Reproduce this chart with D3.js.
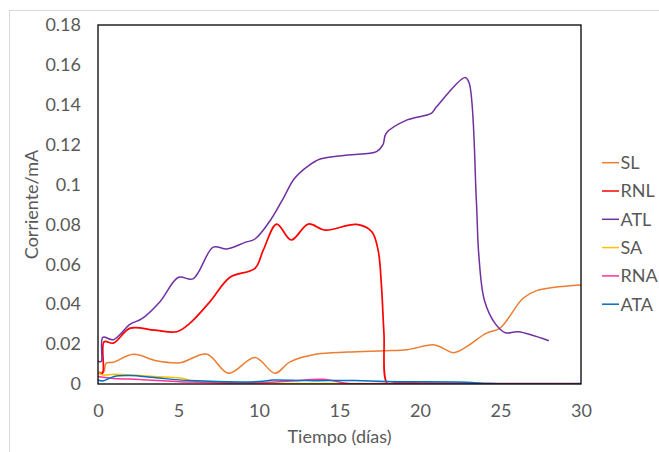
<!DOCTYPE html>
<html>
<head>
<meta charset="utf-8">
<script src="https://cdn.jsdelivr.net/npm/d3@7"></script>
<style>
  body { margin: 0; background: #fff; }
  svg text { font-family: Lato, "Liberation Sans", sans-serif; fill: #595959; }
</style>
</head>
<body>
<svg id="chart" width="659" height="452"></svg>
<script>
// values: [tiempo (días), corriente (mA)]
const seriesNames = ['SL', 'RNL', 'ATL', 'SA', 'RNA', 'ATA'];
const seriesColors = ['#ED7D31', '#FF0000', '#7030A0', '#FFC000', '#FF3399', '#0070C0'];

const SL = [[0,0.006],[0.35,0.006],[0.5,0.0104],[0.95,0.0109],[2.2,0.0149],[3.6,0.0117],[5.1,0.0107],
  [6.75,0.015],[8.1,0.0054],[9.75,0.0133],[11.0,0.0054],[11.9,0.011],[13.6,0.015],[15.5,0.016],
  [17.8,0.0167],[19.2,0.0172],[20.9,0.0196],[22.1,0.0157],[22.9,0.0187],[24.1,0.0254],[24.97,0.028],
  [26.4,0.043],[27.25,0.0468],[30,0.0496]];
const RNL = [[0,0.0055],[0.28,0.0055],[0.38,0.0212],[0.95,0.0205],[2,0.028],[3.5,0.027],[4.9,0.0262],
  [5.7,0.0304],[6.96,0.0413],[8.2,0.0535],[9.75,0.058],[10.27,0.0672],[11.1,0.0802],[12,0.0722],
  [13.06,0.0802],[14.1,0.0772],[16.07,0.080],[17.0,0.0764],[17.4,0.067],[17.6,0.050],[17.76,0.0255],
  [17.97,0.0003],[18.6,0.0008],[20,0.0004],[30,0.0002]];
const ATL = [[0,0.0115],[0.2,0.0113],[0.3,0.0234],[0.95,0.0222],[2,0.030],[2.7,0.0326],[3.85,0.0413],
  [5,0.0535],[5.9,0.0527],[7.16,0.0686],[8,0.0677],[9.13,0.071],[9.75,0.0727],[10.7,0.082],
  [11.5,0.093],[12.2,0.103],[13,0.109],[13.8,0.1128],[15.5,0.1148],[17.3,0.1165],[17.7,0.120],
  [17.9,0.1257],[19.2,0.1324],[20.7,0.1357],[21.0,0.1387],[22.8,0.1537],[23.05,0.151],[23.5,0.092],
  [23.65,0.065],[24,0.042],[24.66,0.0304],[25.3,0.0257],[26.1,0.0262],[28,0.0217]];
const SA = [[0,0.0058],[0.3,0.0045],[1,0.0049],[2.6,0.0042],[4.7,0.0032],[5.3,0.0028],[6,0.0012],
  [7.5,0.0005],[12,0.0003],[20,0.0002],[30,0.0001]];
const RNA = [[0,0.0038],[1,0.0028],[2.6,0.0023],[5.7,0.001],[10,0.0007],[12,0.0015],[14,0.0024],
  [15.5,0.0003],[18,0.0002],[30,0.0001]];
const ATA = [[0,0.002],[0.3,0.0015],[1,0.0038],[2,0.0042],[3.5,0.0032],[5.7,0.0017],[10,0.0012],
  [10.9,0.002],[13,0.0017],[16,0.0017],[17.9,0.0012],[22.9,0.0009],[24.3,0.0002],[30,0.0001]];

const seriesData = [SL, RNL, ATL, SA, RNA, ATA];
const xTicks = [0, 5, 10, 15, 20, 25, 30];
const yTicks = [0, 0.02, 0.04, 0.06, 0.08, 0.1, 0.12, 0.14, 0.16, 0.18];

const svg = d3.select('#chart');
const plotLeft = 98, plotRight = 581, plotTop = 25, plotBottom = 384;
const fontSize = '18px';

// chart area border
svg.append('rect')
  .attr('x', 9.5).attr('y', 10.5)
  .attr('width', 700).attr('height', 500)
  .attr('fill', '#fff')
  .attr('stroke', '#d9d9d9');

const x = d3.scaleLinear().domain([0, 30]).range([plotLeft, plotRight]);
const y = d3.scaleLinear().domain([0, 0.18]).range([plotBottom, plotTop]);

const line = d3.line()
  .x(d => x(d[0]))
  .y(d => y(d[1]))
  .curve(d3.curveCatmullRom.alpha(0.5));

svg.append('defs').append('clipPath').attr('id', 'plotclip')
  .append('rect')
  .attr('x', plotLeft).attr('y', plotTop - 2)
  .attr('width', plotRight - plotLeft).attr('height', plotBottom - plotTop + 2);

svg.append('g')
  .attr('clip-path', 'url(#plotclip)')
  .selectAll('path')
  .data(seriesData)
  .join('path')
    .attr('d', line)
    .attr('fill', 'none')
    .attr('stroke', (d, i) => seriesColors[i])
    .attr('stroke-width', (d, i) => i === 1 ? 1.7 : 1.5)
    .attr('stroke-linejoin', 'round');

// plot border
svg.append('rect')
  .attr('x', plotLeft).attr('y', plotTop)
  .attr('width', plotRight - plotLeft).attr('height', plotBottom - plotTop)
  .attr('fill', 'none')
  .attr('stroke', '#000')
  .attr('stroke-width', 1.3);

const xAxis = svg.append('g')
  .attr('transform', `translate(0,${plotBottom})`)
  .call(d3.axisBottom(x).tickValues(xTicks).tickSize(0).tickPadding(20.5));
xAxis.select('.domain').remove();
xAxis.selectAll('text').style('font-size', fontSize).attr('fill', '#595959');

const yAxis = svg.append('g')
  .attr('transform', `translate(${plotLeft},0)`)
  .call(d3.axisLeft(y).tickValues(yTicks).tickSize(0).tickPadding(17)
    .tickFormat(d => String(+d.toFixed(2))));
yAxis.select('.domain').remove();
yAxis.selectAll('text').style('font-size', fontSize).attr('fill', '#595959');

svg.append('text')
  .attr('x', (plotLeft + plotRight) / 2).attr('y', 443)
  .attr('text-anchor', 'middle')
  .style('font-size', fontSize)
  .text('Tiempo (días)');

svg.append('text')
  .attr('transform', `translate(37.5,${(plotTop + plotBottom) / 2}) rotate(-90)`)
  .attr('text-anchor', 'middle')
  .style('font-size', fontSize)
  .text('Corriente/mA');

// legend
const legend = svg.append('g')
  .selectAll('g')
  .data(seriesNames)
  .join('g')
    .attr('transform', (d, i) => `translate(602,${162.7 + i * 28.3})`);
legend.append('line')
  .attr('x1', 0).attr('x2', 17)
  .attr('stroke', (d, i) => seriesColors[i])
  .attr('stroke-width', 1.5);
legend.append('text')
  .attr('x', 18.5).attr('dy', '0.36em')
  .style('font-size', fontSize)
  .text(d => d);
</script>
</body>
</html>
